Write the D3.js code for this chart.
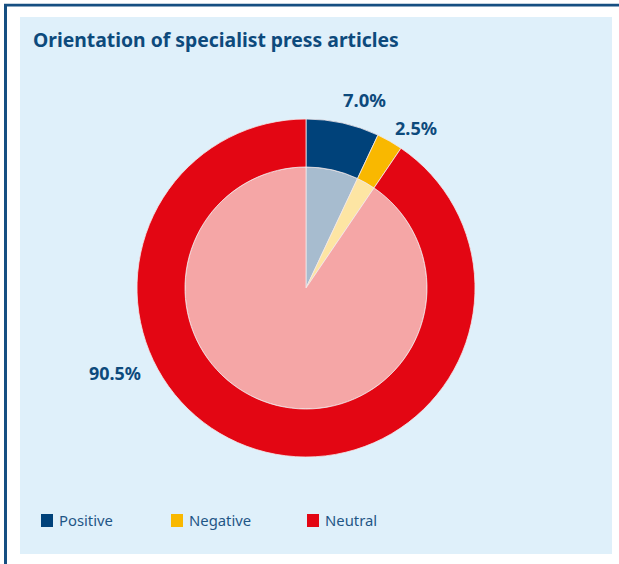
<!DOCTYPE html>
<html><head><meta charset="utf-8">
<script src="https://cdn.jsdelivr.net/npm/d3@7"></script>
<style>body{margin:0;background:#fff;} svg{display:block;}</style>
</head><body>
<svg id="c" width="619" height="564"></svg>
<script>
const categories = ["Positive", "Negative", "Neutral"];
const values = [7.0, 2.5, 90.5];
const labels = ["7.0%", "2.5%", "90.5%"];
const colors = ["#00427a", "#f9b800", "#e30613"];
const lightColors = ["#a7bccf", "#fde5a3", "#f5a6a6"];
const title = "Orientation of specialist press articles";

const svg = d3.select("#c");
const font = "'Noto Sans', 'Open Sans', sans-serif";
function fit(sel, w){
  const cur = sel.node().getComputedTextLength();
  const fs = parseFloat(sel.attr("font-size"));
  sel.attr("font-size", fs * w / cur);
  return sel;
}
// frame
svg.append("rect").attr("x",0).attr("y",0).attr("width",619).attr("height",564).attr("fill","#fff");
svg.append("line").attr("x1",4).attr("x2",619).attr("y1",5.2).attr("y2",5.2).attr("stroke","#164f82").attr("stroke-width",2.8);
svg.append("line").attr("x1",5.5).attr("x2",5.5).attr("y1",4).attr("y2",564).attr("stroke","#164f82").attr("stroke-width",3);
svg.append("rect").attr("x",20).attr("y",17).attr("width",592).attr("height",537).attr("fill","#dff0fa");

fit(svg.append("text").attr("x",33).attr("y",47).text(title)
  .attr("font-family",font).attr("font-weight",700).attr("font-size",20).attr("fill","#0d4a7c"), 366);

const cx = 306, cy = 288, rOuter = 169, rInner = 121;
const pie = d3.pie().sort(null).value(d => d)(values);
const g = svg.append("g").attr("transform",`translate(${cx},${cy})`);
g.selectAll("path.in").data(pie).join("path").attr("class","in")
  .attr("d", d3.arc().innerRadius(0).outerRadius(rInner))
  .attr("fill",(d,i)=>lightColors[i]).attr("stroke","#f3e8ea").attr("stroke-width",0.8);
g.selectAll("path.out").data(pie).join("path").attr("class","out")
  .attr("d", d3.arc().innerRadius(rInner).outerRadius(rOuter))
  .attr("fill",(d,i)=>colors[i]).attr("stroke","#f3e8ea").attr("stroke-width",0.8);

const labelPos = [[343,107,43],[395,135,42],[89,380,52]];
labels.forEach((t,i)=>{
  fit(svg.append("text").attr("x",labelPos[i][0]).attr("y",labelPos[i][1]).text(t)
    .attr("font-family",font).attr("font-weight",700).attr("font-size",16).attr("fill","#0d4a7c"), labelPos[i][2]);
});

const legX = [41,171,307];
const legW = [54,62,0];
let legFs = null;
categories.forEach((c,i)=>{
  svg.append("rect").attr("x",legX[i]).attr("y",514).attr("width",12).attr("height",13).attr("fill",colors[i]);
  const t = svg.append("text").attr("x",legX[i]+18).attr("y",526).text(c)
    .attr("font-family",font).attr("font-size",15).attr("fill","#1f5686");
  if(i===0){ fit(t, legW[0]); legFs = t.attr("font-size"); } else t.attr("font-size", legFs);
});
</script>
</body></html>
